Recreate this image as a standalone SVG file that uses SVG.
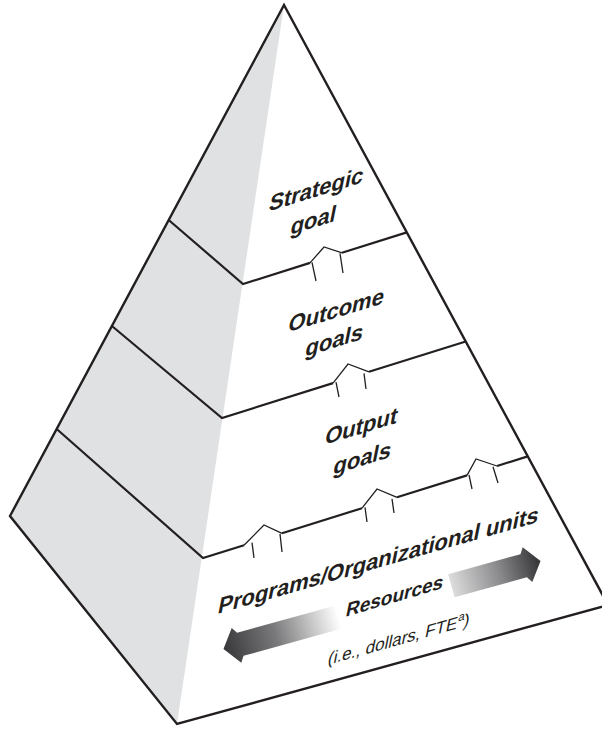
<svg xmlns="http://www.w3.org/2000/svg" width="602" height="729" viewBox="0 0 602 729">
  <defs>
    <style>
      .edge { fill: none; stroke: #231f20; stroke-width: 2.4; stroke-linejoin: miter; }
      .tier { fill: none; stroke: #231f20; stroke-width: 2.2; stroke-linejoin: miter; }
      .up { fill: none; stroke: #231f20; stroke-width: 1.3; stroke-linejoin: miter; }
      .lbl { font-family: "Liberation Sans", Arial, Helvetica, sans-serif; font-weight: bold; font-size: 22px; fill: #231f20; text-anchor: middle; }
      .base { font-family: "Liberation Sans", Arial, Helvetica, sans-serif; font-weight: bold; fill: #231f20; }
      .note { font-family: "Liberation Sans", Arial, Helvetica, sans-serif; font-size: 17px; fill: #231f20; }
    </style>
    <linearGradient id="fadeLeft" gradientUnits="userSpaceOnUse" x1="-164" y1="0" x2="-45" y2="0">
      <stop offset="0" stop-color="#38383a"/>
      <stop offset="0.45" stop-color="#7a7a7c"/>
      <stop offset="1" stop-color="#ffffff"/>
    </linearGradient>
    <linearGradient id="fadeRight" gradientUnits="userSpaceOnUse" x1="72" y1="0" x2="162" y2="0">
      <stop offset="0" stop-color="#dcdcdd"/>
      <stop offset="0.55" stop-color="#8a8a8c"/>
      <stop offset="1" stop-color="#38383a"/>
    </linearGradient>
  </defs>

  <rect width="602" height="729" fill="#ffffff"/>

  <!-- pyramid body: shaded side face and outline -->
  <g id="pyramid">
    <polygon points="284,5 10,516 177,724" fill="#e0e1e3"/>
    <polygon class="edge" points="284,5 10,516 177,724 608,605"/>
  </g>

  <!-- tier boundaries with upward block arrows -->
  <g id="connectors">
    <!-- strategic / outcome -->
    <polyline class="tier" points="168.7,220 243,284 310,262.9"/>
    <polyline class="tier" points="342,252.8 406.8,232.4"/>
    <polyline class="up" points="310,262.9 324,247 342,252.8"/>
    <line class="up" x1="312" y1="262.3" x2="316" y2="281"/>
    <line class="up" x1="340" y1="253.4" x2="343" y2="273"/>

    <!-- outcome / output -->
    <polyline class="tier" points="111.9,326 222,418 333,383.1"/>
    <polyline class="tier" points="369,371.8 465.7,341.5"/>
    <polyline class="up" points="333,383.1 348,364 369,371.8"/>
    <line class="up" x1="336" y1="382.2" x2="339" y2="397"/>
    <line class="up" x1="364" y1="373.4" x2="366" y2="389"/>

    <!-- output / programs -->
    <polyline class="tier" points="56.7,429 203,558 244,545.2"/>
    <polyline class="tier" points="282,533.3 362,508.2"/>
    <polyline class="tier" points="397,497.3 467,475.4"/>
    <polyline class="tier" points="497,466 527.7,456.4"/>
    <polyline class="up" points="244,545.2 264,525 282,533.3"/>
    <line class="up" x1="252" y1="542.7" x2="254" y2="558"/>
    <line class="up" x1="280" y1="533.9" x2="282" y2="552"/>
    <polyline class="up" points="362,508.2 377,489 397,497.3"/>
    <line class="up" x1="365" y1="507.3" x2="367" y2="522"/>
    <line class="up" x1="392" y1="498.8" x2="394" y2="513"/>
    <polyline class="up" points="467,475.4 476,459 497,466"/>
    <line class="up" x1="469" y1="474.8" x2="472" y2="489"/>
    <line class="up" x1="493" y1="466.8" x2="498" y2="483"/>
  </g>

  <!-- labels: sheared onto the front face (skewY) and slanted (skewX) -->
  <g id="strategic-goal">
    <text class="lbl" transform="translate(315,197) skewY(-17) skewX(-12)">Strategic</text>
    <text class="lbl" transform="translate(312,228) skewY(-17) skewX(-12)">goal</text>
  </g>

  <g id="outcome-goals">
    <text class="lbl" transform="translate(335,318) skewY(-17) skewX(-12)">Outcome</text>
    <text class="lbl" transform="translate(333,348) skewY(-17) skewX(-12)">goals</text>
  </g>

  <g id="output-goals">
    <text class="lbl" transform="translate(360,434) skewY(-17) skewX(-12)">Output</text>
    <text class="lbl" transform="translate(361,466) skewY(-17) skewX(-12)">goals</text>
  </g>

  <g id="programs">
    <!-- two-way resources arrow -->
    <g transform="translate(382,605) rotate(-15.5)">
      <polygon fill="url(#fadeLeft)" points="-164.5,0 -151,-18 -147,-12 -40,-12 -40,12 -147,12 -151,18"/>
      <polygon fill="url(#fadeRight)" points="164.5,0 151,-18 147,-12 72,-12 72,12 147,12 151,18"/>
    </g>
    <text class="base" font-size="22" transform="translate(217,614) skewY(-16) skewX(-12)">Programs/Organizational units</text>
    <text class="base" font-size="19" transform="translate(345,617) skewY(-16.5) skewX(-12)">Resources</text>
    <text class="note" transform="translate(327,665) skewY(-15.6) skewX(-12)">(i.e., dollars, FTE<tspan dy="-7" font-size="11.5">a</tspan><tspan dy="7">)</tspan></text>
  </g>
</svg>
